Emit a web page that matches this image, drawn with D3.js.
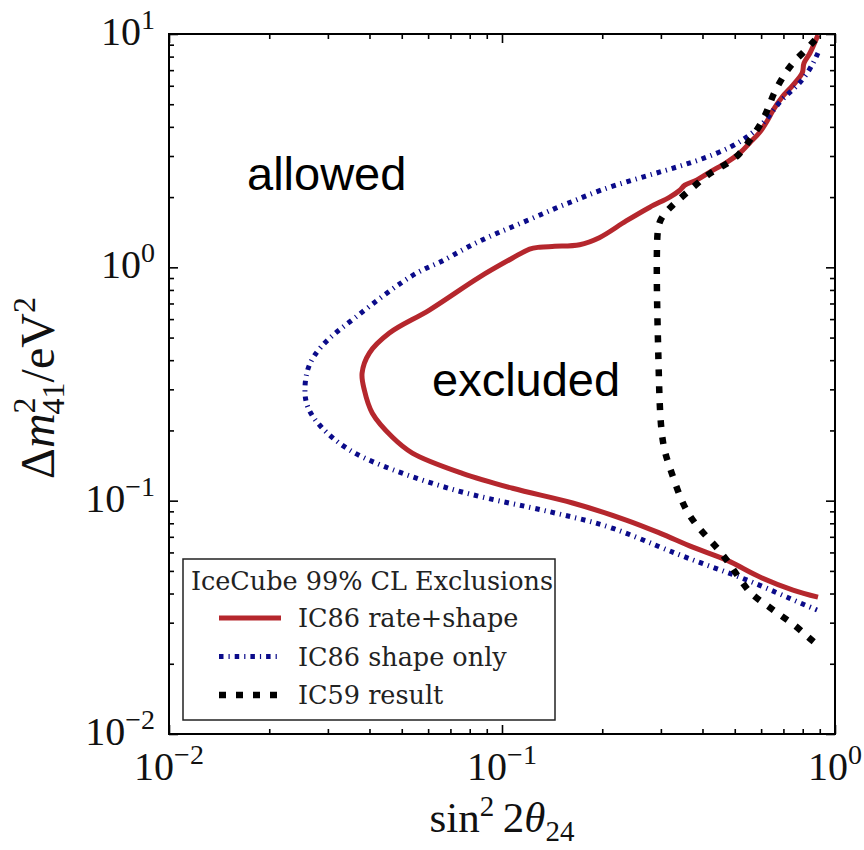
<!DOCTYPE html>
<html><head><meta charset="utf-8">
<script src="https://cdn.jsdelivr.net/npm/d3@7"></script>
<style>body{margin:0;background:#fff}</style>
</head><body><svg id="chart" width="864" height="850"></svg>
<script>
// ---------- data ----------
const xDomain = [0.01, 1];
const yDomain = [0.01, 10];
const xMajorTicks = [0.01, 0.1, 1];
const xTickExponents = ["\u22122", "\u22121", "0"];
const yMajorTicks = [0.01, 0.1, 1, 10];
const yTickExponents = ["\u22122", "\u22121", "0", "1"];

const seriesNames = ["IC86 rate+shape", "IC86 shape only", "IC59 result"];
const legendTitle = "IceCube 99% CL Exclusions";

const ic86RateShapeX = [0.889,0.841,0.807,0.797,0.748,0.694,0.652,0.628,0.595,0.554,0.518,0.473,0.421,0.385,0.354,0.342,0.319,0.278,0.236,0.196,0.171,0.144,0.1297,0.121,0.1076,0.0856,0.0605,0.0459,0.040,0.038,0.0386,0.0408,0.0469,0.0538,0.0760,0.1076,0.163,0.236,0.298,0.374,0.473,0.595,0.748,0.889];
const ic86RateShapeY = [9.9,8.29,7.5,6.8,6.04,5.37,4.72,4.28,3.80,3.41,3.09,2.82,2.56,2.37,2.25,2.14,2.00,1.81,1.58,1.34,1.25,1.23,1.22,1.198,1.096,0.908,0.656,0.523,0.43,0.352,0.298,0.237,0.187,0.160,0.131,0.113,0.0977,0.0826,0.0726,0.0632,0.0556,0.0471,0.0414,0.0386];

const ic86ShapeOnlyX = [0.889,0.841,0.769,0.684,0.624,0.566,0.493,0.393,0.312,0.247,0.196,0.167,0.152,0.121,0.0962,0.0782,0.0649,0.0565,0.0449,0.0355,0.0303,0.0269,0.0258,0.0255,0.0258,0.0283,0.0341,0.0428,0.0605,0.0856,0.121,0.163,0.215,0.298,0.374,0.473,0.595,0.748,0.883];
const ic86ShapeOnlyY = [8.29,7.01,5.93,5.21,4.28,3.76,3.28,2.88,2.61,2.37,2.14,1.94,1.85,1.60,1.40,1.22,1.04,0.974,0.776,0.594,0.502,0.413,0.352,0.298,0.252,0.207,0.165,0.142,0.119,0.1036,0.0939,0.0851,0.0771,0.0632,0.0556,0.0494,0.0435,0.0375,0.0340];

const ic59X = [0.871,0.807,0.743,0.694,0.652,0.628,0.595,0.554,0.518,0.467,0.421,0.385,0.349,0.319,0.296,0.2915,0.2915,0.294,0.296,0.298,0.304,0.319,0.342,0.361,0.387,0.421,0.457,0.490,0.525,0.562,0.624,0.684,0.759,0.829,0.902];
const ic59Y = [9.43,8.37,7.51,6.48,5.53,4.72,4.03,3.51,3.03,2.74,2.54,2.28,2.02,1.80,1.60,1.35,0.800,0.488,0.329,0.237,0.170,0.139,0.1036,0.0885,0.0771,0.0678,0.0596,0.0519,0.0448,0.0394,0.0357,0.0323,0.0293,0.0260,0.0236];

// ---------- layout ----------
const L = 169, R = 835, T = 34, B = 734;
const svg = d3.select("#chart");
const x = d3.scaleLog().domain(xDomain).range([L, R]);
const y = d3.scaleLog().domain(yDomain).range([B, T]);

const serif = "'Liberation Serif', 'Times New Roman', serif";
const legendFont = "'DejaVu Serif', serif";
const sans = "'Liberation Sans', Arial, sans-serif";

// ---------- curves ----------
const zip = (xs, ys) => xs.map((v, i) => [v, ys[i]]);
const lineCR = d3.line().x(d => x(d[0])).y(d => y(d[1])).curve(d3.curveCatmullRom.alpha(0.5));
const lineB = d3.line().x(d => x(d[0])).y(d => y(d[1])).curve(d3.curveBasis);

const styles = [
  {data: zip(ic86RateShapeX, ic86RateShapeY), gen: lineCR, color: "#b5272d", width: 5, dash: null},
  {data: zip(ic86ShapeOnlyX, ic86ShapeOnlyY), gen: lineB, color: "#0b0b8a", width: 5, dash: "4.5,5,1.2,5"},
  {data: zip(ic59X, ic59Y), gen: lineB, color: "#000000", width: 6.5, dash: "7,10"}
];
const plot = svg.append("g");
styles.forEach(s => {
  plot.append("path").attr("d", s.gen(s.data)).attr("fill", "none")
    .attr("stroke", s.color).attr("stroke-width", s.width)
    .attr("stroke-dasharray", s.dash).attr("stroke-linejoin", "round");
});

// ---------- axes (ticks on all four sides, pointing inward) ----------
const xMinor = x.ticks().filter(v => !xMajorTicks.some(m => Math.abs(m - v) < 1e-9));
const yMinor = y.ticks().filter(v => !yMajorTicks.some(m => Math.abs(m - v) < 1e-9));
function addAxis(axisFn, scale, values, size, transform) {
  const g = svg.append("g").attr("transform", transform)
    .call(axisFn(scale).tickValues(values).tickSize(size).tickFormat(""));
  g.select(".domain").remove();
  g.selectAll(".tick line").attr("stroke", "#000").attr("stroke-width", 1.6);
}
addAxis(d3.axisBottom, x, xMajorTicks, -9, `translate(0,${B})`);
addAxis(d3.axisBottom, x, xMinor, -5, `translate(0,${B})`);
addAxis(d3.axisTop, x, xMajorTicks, -9, `translate(0,${T})`);
addAxis(d3.axisTop, x, xMinor, -5, `translate(0,${T})`);
addAxis(d3.axisLeft, y, yMajorTicks, -9, `translate(${L},0)`);
addAxis(d3.axisLeft, y, yMinor, -5, `translate(${L},0)`);
addAxis(d3.axisRight, y, yMajorTicks, -9, `translate(${R},0)`);
addAxis(d3.axisRight, y, yMinor, -5, `translate(${R},0)`);

svg.append("rect").attr("x", L).attr("y", T).attr("width", R - L).attr("height", B - T)
  .attr("fill", "none").attr("stroke", "#000").attr("stroke-width", 2);

// tick labels
xMajorTicks.forEach((v, i) => {
  const t = svg.append("text").attr("x", x(v)).attr("y", B + 46)
    .attr("text-anchor", "middle").attr("font-family", serif).attr("font-size", 40).attr("fill", "#111");
  t.append("tspan").text("10");
  t.append("tspan").attr("dy", -16).attr("font-size", 28).text(xTickExponents[i]);
});
yMajorTicks.forEach((v, i) => {
  const t = svg.append("text").attr("x", 155).attr("y", y(v) + 11)
    .attr("text-anchor", "end").attr("font-family", serif).attr("font-size", 40).attr("fill", "#111");
  t.append("tspan").text("10");
  t.append("tspan").attr("dy", -16).attr("font-size", 28).text(yTickExponents[i]);
});

// axis labels
const xl = svg.append("text").attr("x", (L + R) / 2).attr("y", 832).attr("text-anchor", "middle")
  .attr("font-family", serif).attr("font-size", 43).attr("fill", "#111");
xl.append("tspan").text("sin");
xl.append("tspan").attr("dy", -16).attr("font-size", 29).text("2");
xl.append("tspan").attr("dy", 16).text("\u20092");
xl.append("tspan").attr("font-style", "italic").text("\u03b8");
xl.append("tspan").attr("dy", 9).attr("font-size", 29).text("24");

const yl = svg.append("text").attr("transform", "translate(54,388) rotate(-90)").attr("text-anchor", "middle")
  .attr("font-family", serif).attr("font-size", 48).attr("fill", "#111");
yl.append("tspan").text("\u0394");
yl.append("tspan").attr("font-style", "italic").text("m");
yl.append("tspan").attr("dy", -19).attr("font-size", 32).text("2");
yl.append("tspan").attr("dx", -17).attr("dy", 29).attr("font-size", 32).text("41");
yl.append("tspan").attr("dy", -10).text("/eV");
yl.append("tspan").attr("dy", -19).attr("font-size", 32).text("2");

// region annotations
svg.append("text").attr("x", 247).attr("y", 190).attr("font-family", sans).attr("font-size", 47).text("allowed");
svg.append("text").attr("x", 432).attr("y", 396).attr("font-family", sans).attr("font-size", 47).text("excluded");

// ---------- legend ----------
const lg = svg.append("g");
lg.append("rect").attr("x", 183).attr("y", 559).attr("width", 372).attr("height", 161)
  .attr("fill", "#fff").attr("stroke", "#222").attr("stroke-width", 1.5);
lg.append("text").attr("x", 372).attr("y", 590).attr("text-anchor", "middle")
  .attr("font-family", legendFont).attr("font-size", 25.5).attr("fill", "#222").text(legendTitle);
seriesNames.forEach((name, i) => {
  const yy = 618 + i * 38.5;
  const s = styles[i];
  lg.append("line").attr("x1", 219).attr("x2", 281).attr("y1", yy).attr("y2", yy)
    .attr("stroke", s.color).attr("stroke-width", s.width).attr("stroke-dasharray", s.dash);
  lg.append("text").attr("x", 298).attr("y", yy + 9).attr("font-family", legendFont)
    .attr("font-size", 25.5).attr("fill", "#222").text(name);
});
</script>
</body></html>
